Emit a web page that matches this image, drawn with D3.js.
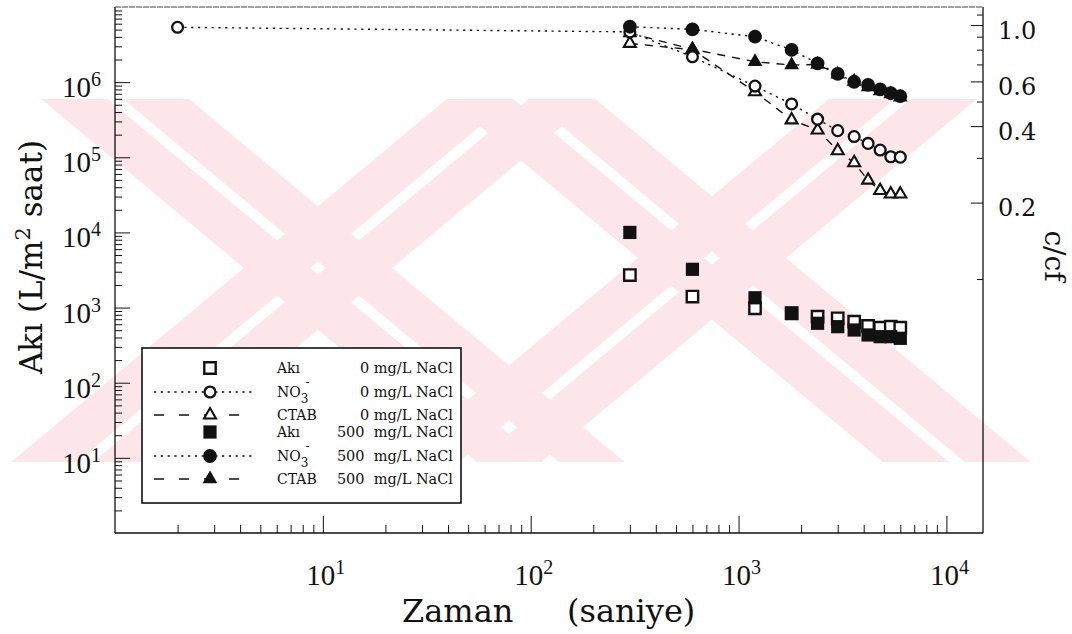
<!DOCTYPE html>
<html>
<head>
<meta charset="utf-8">
<script src="https://cdn.jsdelivr.net/npm/d3@7"></script>
<style>
  body { margin: 0; background: #fff; }
  svg { display: block; }
</style>
</head>
<body>
<svg id="chart" width="1072" height="634"></svg>
<script>
// ---- data (time in seconds) ----
const times = [300, 600, 1200, 1800, 2400, 3000, 3600, 4200, 4800, 5400, 6000];
const nitrateTimes = [2, 300, 600, 1200, 1800, 2400, 3000, 3600, 4200, 4800, 5400, 6000];

// flux, L/(m2 h)
const fluxNaCl0   = [2710, 1400, 980, 840, 757, 720, 649, 569, 540, 557, 540];
const fluxNaCl500 = [10000, 3230, 1350, 840, 618, 557, 503, 432, 410, 410, 390];

// permeate / feed concentration ratio, c/cf
const nitrateNaCl0   = [0.98, 0.94, 0.75, 0.575, 0.489, 0.426, 0.384, 0.364, 0.342, 0.322, 0.303, 0.302];
const nitrateNaCl500 = [0.985, 0.962, 0.90, 0.798, 0.707, 0.642, 0.598, 0.581, 0.558, 0.539, 0.525];
const ctabNaCl0      = [0.847, 0.80, 0.546, 0.423, 0.386, 0.320, 0.287, 0.245, 0.223, 0.216, 0.216];
const ctabNaCl500    = [0.93, 0.803, 0.717, 0.696, 0.70, 0.64, 0.60, 0.57, 0.55, 0.535, 0.52];

// ---- tick labels ----
const xExponents = [1, 2, 3, 4];
const yExponents = [1, 2, 3, 4, 5, 6];
const rightTickValues = [1.0, 0.6, 0.4, 0.2];
const rightTickLabels = ["1.0", "0.6", "0.4", "0.2"];
const rightMinorValues = [0.1, 0.3, 0.5, 0.7, 0.8, 0.9, 1.1];

// ---- legend ----
const legendNames = ["Akı", "NO", "CTAB", "Akı", "NO", "CTAB"];
const legendConc = ["0 mg/L NaCl", "0 mg/L NaCl", "0 mg/L NaCl",
                    "500\u00a0\u00a0mg/L NaCl", "500\u00a0\u00a0mg/L NaCl", "500\u00a0\u00a0mg/L NaCl"];

const svg = d3.select("#chart");
const ink = "#111";
const serif = "'DejaVu Serif', serif";
const timesFont = "'Liberation Serif', serif";

// scales
const x  = d3.scaleLog().domain([1, 15000]).range([115, 983]);
const yL = d3.scaleLog().domain([1, 1e7]).range([533, 7]);
const yR = d3.scaleLog().domain([0.01, 1.178]).range([533, 7]);

// ---- background watermark: two crossed, double-striped pink bands ----
const wm = svg.append("g").attr("fill", "#fde6ea");
const wmTop = 99, wmBot = 462, wmSlope = 1.2, band = 66, gap = 16;
[[318, 268], [712, 258]].forEach(([cx, cy]) => {
  [1, -1].forEach(d => {
    [-1, 1].forEach(side => {
      const off = side < 0 ? -(gap / 2 + band) : gap / 2;
      const a = cx + d * wmSlope * (wmTop - cy) + off;
      const b = cx + d * wmSlope * (wmBot - cy) + off;
      wm.append("polygon").attr("points",
        [[a, wmTop], [a + band, wmTop], [b + band, wmBot], [b, wmBot]]
          .map(p => p.join(",")).join(" "));
    });
  });
});

// ---- axes (ticks point inward) ----
const decadeMinors = (lo, hi) => {
  const out = [];
  for (let k = lo; k <= hi; k++) for (let m = 2; m <= 9; m++) out.push(m * Math.pow(10, k));
  return out;
};

function tickAxis(axis, transform, values, size) {
  const g = svg.append("g").attr("transform", transform)
    .call(axis.tickValues(values).tickSize(size).tickSizeOuter(0).tickFormat(""));
  g.select(".domain").remove();
  g.selectAll("line").attr("stroke", ink).attr("stroke-width", 1);
  return g;
}

tickAxis(d3.axisLeft(yL), "translate(115,0)", yExponents.map(e => Math.pow(10, e)), -15);
tickAxis(d3.axisLeft(yL), "translate(115,0)", decadeMinors(0, 6), -7);
tickAxis(d3.axisBottom(x), "translate(0,533)", xExponents.map(e => Math.pow(10, e)), -17);
tickAxis(d3.axisBottom(x), "translate(0,533)", decadeMinors(0, 3), -8);
tickAxis(d3.axisRight(yR), "translate(983,0)", rightTickValues, -12);
tickAxis(d3.axisRight(yR), "translate(983,0)", rightMinorValues, -6);

// frame
svg.append("line").attr("x1", 115).attr("x2", 983).attr("y1", 7).attr("y2", 7)
  .attr("stroke", "#444").attr("stroke-width", 1).attr("stroke-dasharray", "6,1");
[[115, 7, 115, 533], [115, 533, 983, 533], [983, 7, 983, 533]].forEach(l =>
  svg.append("line").attr("x1", l[0]).attr("y1", l[1]).attr("x2", l[2]).attr("y2", l[3])
    .attr("stroke", ink).attr("stroke-width", 1.3));

// power-of-ten labels
function powerLabel(px, py, exp, anchor) {
  const t = svg.append("text").attr("x", px).attr("y", py)
    .attr("text-anchor", anchor).attr("font-family", timesFont).attr("fill", ink);
  t.append("tspan").attr("font-size", 29).text("10");
  t.append("tspan").attr("font-size", 20).attr("dy", -11).text(exp);
}
xExponents.forEach(e => powerLabel(x(Math.pow(10, e)) + 3, 585, e, "middle"));
yExponents.forEach(e => powerLabel(101, yL(Math.pow(10, e)) + 15, e, "end"));

rightTickValues.forEach((v, i) =>
  svg.append("text").attr("x", 998).attr("y", yR(v) + 13.5)
    .attr("font-family", serif).attr("font-size", 24).attr("fill", ink)
    .text(rightTickLabels[i]));

// axis titles
svg.append("text").attr("x", 402).attr("y", 622).attr("font-family", serif)
  .attr("font-size", 32).attr("fill", ink).text("Zaman");
svg.append("text").attr("x", 567).attr("y", 622).attr("font-family", serif)
  .attr("font-size", 32).attr("fill", ink).text("(saniye)");

const yTitle = svg.append("text").attr("transform", "translate(42,257) rotate(-90)")
  .attr("text-anchor", "middle").attr("font-family", serif).attr("font-size", 31).attr("fill", ink);
yTitle.append("tspan").text("Akı (L/m");
yTitle.append("tspan").attr("font-size", 21).attr("dy", -12).text("2");
yTitle.append("tspan").attr("dy", 12).text(" saat)");

svg.append("text").attr("transform", "translate(1045,256) rotate(90)")
  .attr("text-anchor", "middle").attr("font-family", serif).attr("font-size", 28)
  .attr("fill", ink).text("c/cf");

// ---- markers ----
const sym = (type, size) => d3.symbol(type, size)();
const styles = {
  openSquare:   { path: sym(d3.symbolSquare, 130),   fill: "#fff", stroke: ink, sw: 2.4 },
  fillSquare:   { path: sym(d3.symbolSquare, 175),   fill: ink,    stroke: "none", sw: 0 },
  openCircle:   { path: sym(d3.symbolCircle, 92),    fill: "#fff", stroke: ink, sw: 2.3 },
  fillCircle:   { path: sym(d3.symbolCircle, 150),   fill: ink,    stroke: "none", sw: 0 },
  openTriangle: { path: sym(d3.symbolTriangle, 62),  fill: "#fff", stroke: ink, sw: 2.1 },
  fillTriangle: { path: sym(d3.symbolTriangle, 95),  fill: ink,    stroke: "none", sw: 0 }
};
const dotted = "2.2,4.6", dashed = "8,7";

function seriesLine(ts, vs, scale, dash) {
  svg.append("path")
    .datum(ts.map((t, i) => [t, vs[i]]))
    .attr("fill", "none").attr("stroke", ink).attr("stroke-width", 1.4)
    .attr("stroke-dasharray", dash)
    .attr("d", d3.line().x(d => x(d[0])).y(d => scale(d[1])));
}
function seriesMarks(ts, vs, scale, st) {
  const s = styles[st];
  svg.append("g").selectAll("path")
    .data(ts.map((t, i) => [t, vs[i]]))
    .join("path")
    .attr("d", s.path)
    .attr("transform", d => `translate(${x(d[0])},${scale(d[1])})`)
    .attr("fill", s.fill).attr("stroke", s.stroke).attr("stroke-width", s.sw);
}

// flux (left axis)
seriesMarks(times, fluxNaCl0, yL, "openSquare");
seriesMarks(times, fluxNaCl500, yL, "fillSquare");

// concentration ratio (right axis)
seriesLine(nitrateTimes, nitrateNaCl0, yR, dotted);
seriesLine(times, nitrateNaCl500, yR, dotted);
seriesLine(times, ctabNaCl0, yR, dashed);
seriesLine(times, ctabNaCl500, yR, dashed);
seriesMarks(times, ctabNaCl0, yR, "openTriangle");
seriesMarks(times, ctabNaCl500, yR, "fillTriangle");
seriesMarks(nitrateTimes, nitrateNaCl0, yR, "openCircle");
seriesMarks(times, nitrateNaCl500, yR, "fillCircle");

// ---- legend ----
const lg = svg.append("g");
lg.append("rect").attr("x", 142).attr("y", 348).attr("width", 319).attr("height", 155)
  .attr("fill", "#fff").attr("stroke", ink).attr("stroke-width", 1.6);
const rowY = [368, 392, 415, 432, 456, 479];
const rowSym = ["openSquare", "openCircle", "openTriangle", "fillSquare", "fillCircle", "fillTriangle"];
const rowDash = [null, dotted, "10,15", null, dotted, "10,15"];
rowY.forEach((ry, i) => {
  if (rowDash[i]) {
    lg.append("line").attr("x1", 154).attr("x2", 254).attr("y1", ry).attr("y2", ry)
      .attr("stroke", ink).attr("stroke-width", 1.4).attr("stroke-dasharray", rowDash[i]);
  }
  const s = styles[rowSym[i]];
  lg.append("path").attr("d", s.path).attr("transform", `translate(210,${ry})`)
    .attr("fill", s.fill).attr("stroke", s.stroke).attr("stroke-width", s.sw);
  const nm = lg.append("text").attr("x", 277).attr("y", ry + 5)
    .attr("font-family", serif).attr("font-size", 14).attr("fill", ink);
  nm.append("tspan").text(legendNames[i]);
  if (legendNames[i] === "NO") {
    nm.append("tspan").attr("font-size", 12).attr("dy", 6).text("3");
    nm.append("tspan").attr("font-size", 12).attr("dy", -17).attr("dx", -3).text("-");
  }
  lg.append("text").attr("x", 453).attr("y", ry + 5).attr("text-anchor", "end")
    .attr("font-family", serif).attr("font-size", 14.5).attr("fill", ink).text(legendConc[i]);
});
</script>
</body>
</html>
